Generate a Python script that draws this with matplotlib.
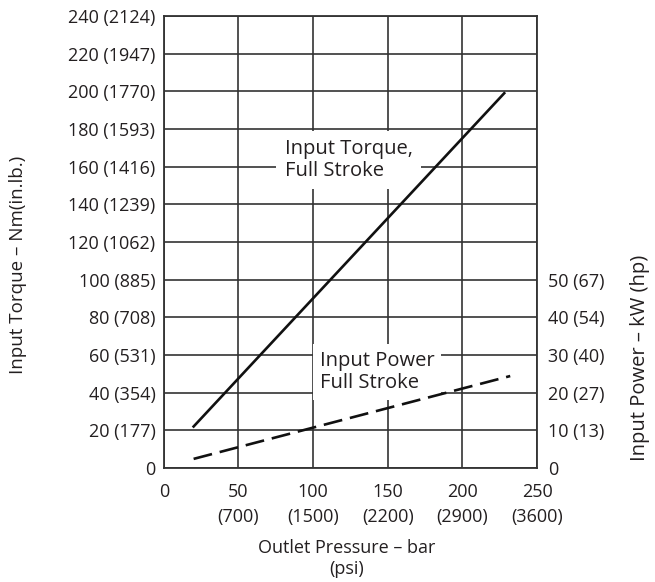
import matplotlib
matplotlib.use("Agg")
import matplotlib.pyplot as plt

plt.rcParams['font.family'] = ['Open Sans', 'DejaVu Sans']

# Data
pressure_bar = [20, 228]
torque_nm = [22, 199]
power_pressure_bar = [20, 232]
power_kw = [2.4, 24.4]

x_ticks = [0, 50, 100, 150, 200, 250]
x_tick_labels = ["0", "50\n(700)", "100\n(1500)", "150\n(2200)", "200\n(2900)", "250\n(3600)"]
y_ticks = [0, 20, 40, 60, 80, 100, 120, 140, 160, 180, 200, 220, 240]
y_tick_labels = ["0", "20 (177)", "40 (354)", "60 (531)", "80 (708)", "100 (885)",
                 "120 (1062)", "140 (1239)", "160 (1416)", "180 (1593)", "200 (1770)",
                 "220 (1947)", "240 (2124)"]
r_ticks = [0, 10, 20, 30, 40, 50]
r_tick_labels = ["0", "10 (13)", "20 (27)", "30 (40)", "40 (54)", "50 (67)"]

TXT = '#231f20'

fig = plt.figure(figsize=(6.55, 5.82), dpi=100)
ax = fig.add_axes([0.250, 0.196, 0.570, 0.7765])
ax.set_xlim(0, 250)
ax.set_ylim(0, 240)
ax.set_xticks(x_ticks)
ax.set_xticklabels(x_tick_labels, fontsize=13, color=TXT, linespacing=1.45)
ax.set_yticks(y_ticks)
ax.set_yticklabels(y_tick_labels, fontsize=13, color=TXT)
ax.tick_params(axis='y', length=0, pad=6)
ax.tick_params(axis='x', length=0, pad=11)
ax.grid(True, color='#333333', linewidth=1.2)
ax.set_axisbelow(True)
for s in ax.spines.values():
    s.set_linewidth(1.3)
    s.set_color('#333333')

ax.plot(pressure_bar, torque_nm, color='#111111', linewidth=1.9, zorder=3)

ax2 = ax.twinx()
ax2.set_ylim(0, 120)
ax2.set_yticks(r_ticks)
ax2.set_yticklabels(r_tick_labels, fontsize=13, color=TXT)
ax2.tick_params(length=0, pad=8)
for s in ax2.spines.values():
    s.set_visible(False)
ax2.plot(power_pressure_bar, power_kw, color='#111111', linewidth=1.9,
         dashes=(7.2, 3.0), zorder=3)

ax.text(81, 163.5, "Input Torque,\nFull Stroke", fontsize=14.5, color=TXT,
        ha='left', va='center', linespacing=1.15,
        bbox=dict(facecolor='white', edgecolor='none', pad=6), zorder=2)
ax.text(104.5, 51, "Input Power\nFull Stroke", fontsize=14.5, color=TXT,
        ha='left', va='center', linespacing=1.15,
        bbox=dict(facecolor='white', edgecolor='none', pad=5), zorder=2)

ax.set_xlabel("Outlet Pressure – bar\n(psi)", fontsize=13, color=TXT, linespacing=1.25)
ax.xaxis.set_label_coords(0.49, -0.157)
ax.xaxis.label.set_va('top')

ax.set_ylabel("Input Torque – Nm(in.lb.)", fontsize=13.5, color=TXT)
ax.yaxis.set_label_coords(-0.391, 0.449)
ax.yaxis.label.set_va('center')

ax2.set_ylabel("Input Power – kW (hp)", fontsize=14.5, color=TXT)
ax2.yaxis.set_label_coords(1.276, 0.243)
ax2.yaxis.label.set_va('center')

fig.savefig("out.png", dpi=100)
